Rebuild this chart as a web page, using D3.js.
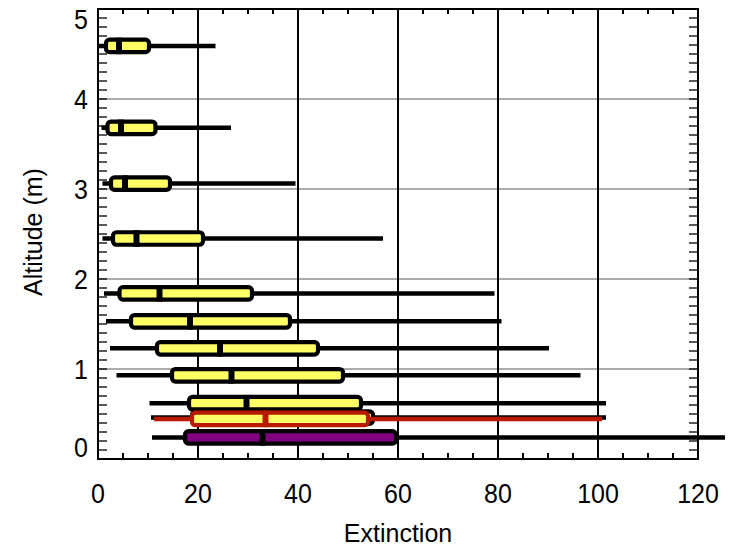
<!DOCTYPE html>
<html>
<head>
<meta charset="utf-8">
<script src="https://cdn.jsdelivr.net/npm/d3@7"></script>
<style>
  body { margin: 0; background: #fff; }
  text { font-family: "Liberation Sans", Arial, sans-serif; fill: #000; }
</style>
</head>
<body>
<svg id="chart" width="733" height="547"></svg>
<script>
// box statistics, one entry per altitude level (bottom row is the purple one)
var altitude = [4.59, 3.68, 3.06, 2.45, 1.84, 1.53, 1.23, 0.93, 0.62, 0.46, 0.24];
var minVal   = [0.2, 0.7, 0.9, 0.9, 1.2, 1.6, 2.4, 3.7, 10.3, 10.6, 10.8];
var q1Val    = [1.6, 1.9, 2.6, 3.0, 4.3, 6.6, 11.8, 14.8, 18.2, 18.8, 17.4];
var medVal   = [4.2, 4.6, 5.4, 7.7, 12.3, 18.4, 24.4, 26.7, 29.7, 32.4, 32.9];
var q3Val    = [10.2, 11.5, 14.4, 21.0, 30.8, 38.4, 44.0, 49.0, 52.6, 55.0, 59.6];
var maxVal   = [23.5, 26.6, 39.5, 57.0, 79.3, 80.7, 90.2, 96.5, 101.6, 101.6, 125.4];
var fillCol  = ["yellow", "yellow", "yellow", "yellow", "yellow", "yellow", "yellow", "yellow", "yellow", "yellow", "purple"];

// the red (overall) box drawn over the black one near 0.45 m
var redBox = {alt: 0.445, min: 11.2, q1: 18.8, med: 33.5, q3: 54.0, max: 100.8};

var xTicks = [0, 20, 40, 60, 80, 100, 120];
var yTicks = [0, 1, 2, 3, 4, 5];

var colors = {yellow: "#ffff66", purple: "#800080", red: "#b81a00"};

var svg = d3.select("#chart");
var margin = {top: 9, right: 35, bottom: 88, left: 98};
var width = 733 - margin.left - margin.right,
    height = 547 - margin.top - margin.bottom;

var x = d3.scaleLinear().domain([0, 120]).range([margin.left, margin.left + width]);
var y = d3.scaleLinear().domain([0, 5]).range([margin.top + height, margin.top]);

// grid
svg.append("g").selectAll("line")
  .data([1, 2, 3, 4]).enter().append("line")
    .attr("x1", x(0)).attr("x2", x(120))
    .attr("y1", function(d) { return y(d); })
    .attr("y2", function(d) { return y(d); })
    .attr("stroke", "#5a5a5a").attr("stroke-width", 1.2);

svg.append("g").selectAll("line")
  .data([20, 40, 60, 80, 100]).enter().append("line")
    .attr("x1", function(d) { return x(d); })
    .attr("x2", function(d) { return x(d); })
    .attr("y1", y(0)).attr("y2", y(5))
    .attr("stroke", "#000").attr("stroke-width", 2);

var boxH = 12.5;

function drawBox(g, b, stroke, fill) {
  var cy = y(b.alt);
  g.append("line")
    .attr("x1", x(b.min)).attr("x2", x(b.max))
    .attr("y1", cy).attr("y2", cy)
    .attr("stroke", stroke).attr("stroke-width", 4.5);
  g.append("rect")
    .attr("x", x(b.q1)).attr("y", cy - boxH / 2)
    .attr("width", x(b.q3) - x(b.q1)).attr("height", boxH)
    .attr("rx", 3.5).attr("ry", 3.5)
    .attr("fill", fill).attr("stroke", stroke).attr("stroke-width", 4.2);
  g.append("line")
    .attr("x1", x(b.med)).attr("x2", x(b.med))
    .attr("y1", cy - boxH / 2 - 2).attr("y2", cy + boxH / 2 + 2)
    .attr("stroke", stroke).attr("stroke-width", 6);
}

var boxes = svg.append("g");
for (var i = 0; i < altitude.length; i++) {
  drawBox(boxes, {alt: altitude[i], min: minVal[i], q1: q1Val[i], med: medVal[i], q3: q3Val[i], max: maxVal[i]},
    "#000", colors[fillCol[i]]);
  if (i == 9) drawBox(boxes, redBox, colors.red, colors.yellow);
}

// frame and minor ticks
var axes = svg.append("g");
axes.append("rect")
  .attr("x", x(0)).attr("y", y(5))
  .attr("width", x(120) - x(0)).attr("height", y(0) - y(5))
  .attr("fill", "none").attr("stroke", "#000").attr("stroke-width", 2);

var xMinor = d3.range(5, 120, 5).filter(function(d) { return d % 20 != 0; });
axes.selectAll(".xb").data(xMinor).enter().append("line")
  .attr("x1", function(d) { return x(d); }).attr("x2", function(d) { return x(d); })
  .attr("y1", y(0)).attr("y2", y(0) - 6)
  .attr("stroke", "#000").attr("stroke-width", 2);
axes.selectAll(".xt").data(xMinor).enter().append("line")
  .attr("x1", function(d) { return x(d); }).attr("x2", function(d) { return x(d); })
  .attr("y1", y(5)).attr("y2", y(5) + 5)
  .attr("stroke", "#000").attr("stroke-width", 2);

var yMinor = d3.range(1, 50).map(function(d) { return d / 10; });
axes.selectAll(".yl").data(yMinor).enter().append("line")
  .attr("x1", x(0)).attr("x2", x(0) + 9)
  .attr("y1", function(d) { return y(d); }).attr("y2", function(d) { return y(d); })
  .attr("stroke", "#000").attr("stroke-width", 1.3);
axes.selectAll(".yr").data(yMinor).enter().append("line")
  .attr("x1", x(120)).attr("x2", x(120) - 9)
  .attr("y1", function(d) { return y(d); }).attr("y2", function(d) { return y(d); })
  .attr("stroke", "#000").attr("stroke-width", 1.3);

// tick labels
axes.selectAll(".xl").data(xTicks).enter().append("text")
  .attr("transform", function(d) { return "translate(" + x(d) + "," + (y(0) + 44) + ") scale(1,1.1)"; })
  .attr("text-anchor", "middle")
  .style("font-size", "25px")
  .text(function(d) { return d; });

axes.selectAll(".ylab").data(yTicks).enter().append("text")
  .attr("transform", function(d) {
    var ty = Math.min(Math.max(y(d), y(5) + 10), y(0) - 12) + 9.5;
    return "translate(" + (x(0) - 10) + "," + ty + ") scale(1,1.1)";
  })
  .attr("text-anchor", "end")
  .style("font-size", "25px")
  .text(function(d) { return d; });

svg.append("text")
  .attr("x", x(60)).attr("y", 542)
  .attr("text-anchor", "middle")
  .style("font-size", "25px")
  .text("Extinction");

svg.append("text")
  .attr("transform", "translate(42," + 232 + ") rotate(-90)")
  .attr("text-anchor", "middle")
  .style("font-size", "25px")
  .text("Altitude (m)");
</script>
</body>
</html>
